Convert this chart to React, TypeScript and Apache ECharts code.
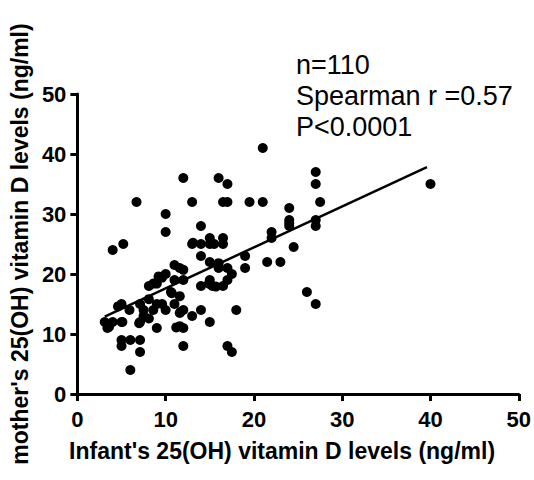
import React, { useEffect, useRef } from "react";
import * as echarts from "echarts";

const xTicks = [0, 10, 20, 30, 40, 50];
const yTicks = [0, 10, 20, 30, 40, 50];

const infantLevels = [
  4, 5.2, 6.7, 10, 10, 12, 13, 14, 13, 14, 15, 15, 15.5, 16.5, 16.5, 16, 17, 16.5, 17, 19.5,
  21, 21, 22, 22, 24, 24, 24, 24.5, 27, 27, 27.5, 27, 27, 40, 26, 27, 23, 21.5, 19, 19,
  14, 15, 16, 17, 17.5, 17, 16.5, 15.3, 15, 14, 18, 17, 17.5, 15, 14, 13, 12, 11.6, 11.6, 12,
  12, 11, 11.6, 12, 12, 11, 10.6, 11.6, 11, 10, 9.6, 9, 8.6, 8.1, 8.1, 9, 9.6, 10, 8.6, 7.5,
  7.1, 7.1, 7.5, 9, 5.9, 5, 4.6, 5, 4, 3.1, 3.4, 5, 5, 6, 7.1, 7.1, 6,
  16, 5.1, 3.6, 7, 11.7, 10.7, 8.1, 9.2, 14.9, 15.7, 13.1, 24, 11.2,
];

const motherLevels = [
  24, 25, 32, 30, 27, 36, 32, 28, 25, 25, 26, 25, 25, 26, 25, 36, 35, 32, 32, 32,
  41, 32, 27, 26, 31, 29, 28, 24.5, 37, 35, 32, 29, 28, 35, 17, 15, 22, 22, 23, 21,
  23, 22, 21, 21, 20, 19, 18, 18, 19, 18, 14, 8, 7, 12, 14, 13, 14, 13.5, 11.3, 11,
  8, 21.5, 21, 20.7, 19, 19, 17, 16.3, 15, 20, 19.4, 18.4, 18.4, 18, 15.8, 15, 15, 14, 14, 14,
  15, 12, 13, 11, 14, 15, 14.6, 12, 12, 12, 11, 9, 8, 9, 9, 7, 4,
  21.8, 12, 11.2, 11.8, 13.7, 16.8, 12.6, 19.6, 18.4, 17.9, 25.2, 28.5, 11.1,
];

const fitLine = [
  [3.1, 12.9],
  [39.6, 37.8],
];

const statLines = ["n=110", "Spearman r =0.57", "P<0.0001"];

const FONT = "Arial, 'Liberation Sans', Helvetica, sans-serif";

export default function App() {
  const ref = useRef<HTMLDivElement>(null);

  useEffect(() => {
    if (!ref.current) return;
    const chart = echarts.init(ref.current, null, { renderer: "svg" });
    const points = infantLevels.map((x, i) => [x, motherLevels[i]]);
    chart.setOption({
      animation: false,
      backgroundColor: "#ffffff",
      grid: { left: 69, right: 15, top: 94, bottom: 86, containLabel: false },
      xAxis: {
        type: "value",
        min: xTicks[0],
        max: xTicks[xTicks.length - 1],
        interval: 10,
        name: "Infant's 25(OH) vitamin D levels (ng/ml)",
        nameLocation: "middle",
        nameGap: 45,
        nameTextStyle: {
          fontFamily: FONT,
          fontWeight: "bold",
          fontSize: 23,
          color: "#000",
          padding: [0, 32, 0, 0],
        },
        axisLine: { show: true, lineStyle: { color: "#000", width: 3 } },
        axisTick: { show: true, length: 7, inside: false, lineStyle: { color: "#000", width: 3 } },
        axisLabel: {
          fontFamily: FONT,
          fontWeight: "bold",
          fontSize: 22,
          color: "#000",
          margin: 14,
        },
        splitLine: { show: false },
      },
      yAxis: {
        type: "value",
        min: yTicks[0],
        max: yTicks[yTicks.length - 1],
        interval: 10,
        name: "mother's 25(OH) vitamin D levels (ng/ml)",
        nameLocation: "middle",
        nameGap: 41,
        nameRotate: 90,
        nameTextStyle: {
          fontFamily: FONT,
          fontWeight: "bold",
          fontSize: 23,
          color: "#000",
        },
        axisLine: { show: true, lineStyle: { color: "#000", width: 3 } },
        axisTick: { show: true, length: 7, inside: false, lineStyle: { color: "#000", width: 3 } },
        axisLabel: {
          fontFamily: FONT,
          fontWeight: "bold",
          fontSize: 22,
          color: "#000",
          margin: 11,
        },
        splitLine: { show: false },
      },
      graphic: [
        {
          type: "text",
          left: 296,
          top: 49,
          style: {
            text: statLines.join("\n"),
            fontFamily: FONT,
            fontSize: 27,
            lineHeight: 31,
            fill: "#000",
          },
        },
      ],
      series: [
        {
          type: "scatter",
          data: points,
          symbol: "circle",
          symbolSize: 10,
          itemStyle: { color: "#000", opacity: 1 },
          z: 3,
        },
        {
          type: "line",
          data: fitLine,
          symbol: "none",
          lineStyle: { color: "#000", width: 2.5 },
          z: 4,
        },
      ],
    });
    return () => chart.dispose();
  }, []);

  return <div ref={ref} style={{ width: 534, height: 480, position: "absolute", left: 0, top: 0 }} />;
}
